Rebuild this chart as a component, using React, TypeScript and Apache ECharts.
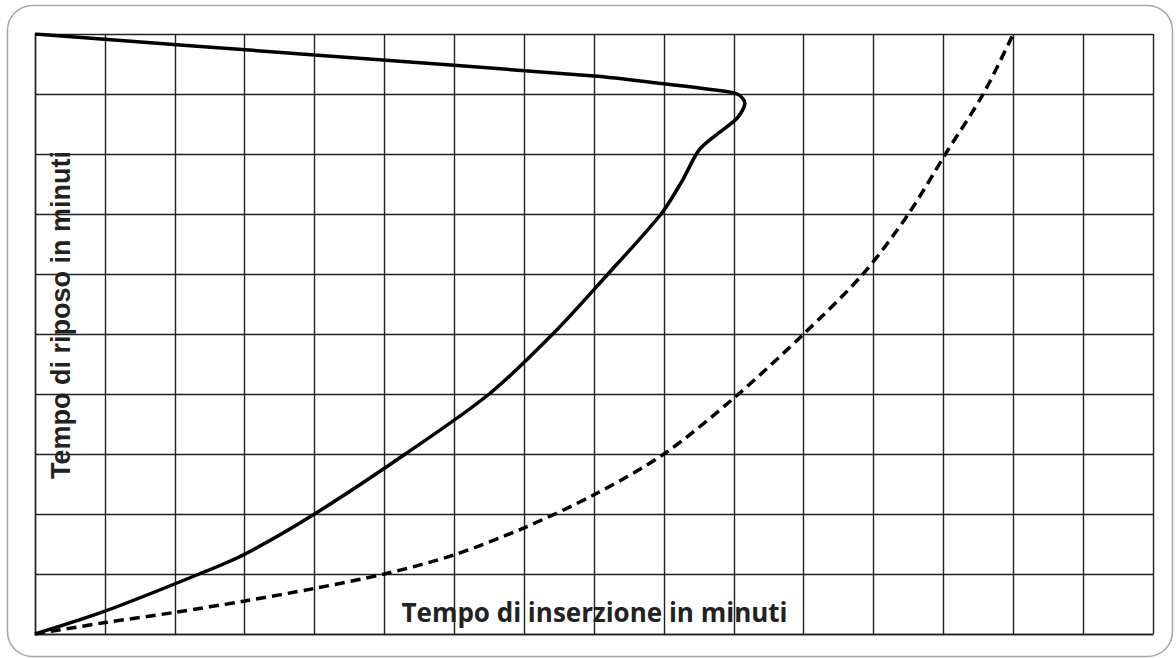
import React, { useEffect, useRef } from "react";
import * as echarts from "echarts";

// Grid extent (minutes)
const xMax = 16;
const yMax = 10;

// Solid curve: Tempo di riposo vs. inserzione
const solidX = [0, 4, 8, 9, 9.7, 10.05, 10.16, 10.05, 9.75, 9.5, 9.27, 8.96, 8.2, 7.41, 6.5, 5.3, 4.0, 3.0, 2.35, 1.0, 0];
const solidY = [10, 9.65, 9.3, 9.17, 9.07, 9.0, 8.85, 8.6, 8.32, 8.06, 7.57, 7.0, 6.0, 5.0, 4.0, 3.0, 2.0, 1.33, 1.0, 0.38, 0];

// Dashed curve
const dashedX = [0, 1, 2, 3, 4, 5, 6, 7, 8, 9, 10, 11, 11.85, 12.5, 13.03, 13.57, 14];
const dashedY = [0, 0.19, 0.36, 0.55, 0.76, 1.0, 1.32, 1.77, 2.32, 3.0, 3.93, 5.0, 6, 7, 8, 9, 10];

const xTitle = "Tempo di inserzione in minuti";
const yTitle = "Tempo di riposo in minuti";

export default function App() {
  const ref = useRef<HTMLDivElement>(null);
  useEffect(() => {
    if (!ref.current) return;
    const chart = echarts.init(ref.current, undefined, { renderer: "svg" });
    const gridColor = "#222222";
    const solid = solidX.map((x, i) => [x, solidY[i]]);
    const dashed = dashedX.map((x, i) => [x, dashedY[i]]);
    chart.setOption({
      animation: false,
      backgroundColor: "#ffffff",
      grid: { left: 35, top: 34, width: 1118, height: 600, containLabel: false },
      xAxis: {
        type: "value",
        min: 0,
        max: xMax,
        interval: 1,
        axisLabel: { show: false },
        axisTick: { show: false },
        axisLine: { show: true, lineStyle: { color: gridColor, width: 1.4 } },
        splitLine: { show: true, lineStyle: { color: gridColor, width: 1.4 } },
      },
      yAxis: {
        type: "value",
        min: 0,
        max: yMax,
        interval: 1,
        axisLabel: { show: false },
        axisTick: { show: false },
        axisLine: { show: true, lineStyle: { color: gridColor, width: 1.4 } },
        splitLine: { show: true, lineStyle: { color: gridColor, width: 1.4 } },
      },
      graphic: [
        {
          type: "rect",
          z: -2,
          shape: { x: 7.5, y: 5.5, width: 1165, height: 651, r: 25 },
          style: { fill: "none", stroke: "#a6a6a6", lineWidth: 1.5 },
        },
        {
          type: "text",
          z: -1,
          x: 594.5,
          y: 612,
          style: {
            text: xTitle,
            fontFamily: "Open Sans",
            fontWeight: "bold",
            fontSize: 26,
            fill: "#222222",
            textAlign: "center",
            textVerticalAlign: "middle",
          },
        },
        {
          type: "text",
          z: -1,
          x: 60.5,
          y: 315,
          rotation: Math.PI / 2,
          style: {
            text: yTitle,
            fontFamily: "Liberation Sans",
            fontWeight: "bold",
            fontSize: 27,
            fill: "#222222",
            textAlign: "center",
            textVerticalAlign: "middle",
          },
        },
      ],
      series: [
        {
          type: "line",
          data: solid,
          smooth: 0.3,
          showSymbol: false,
          symbol: "none",
          lineStyle: { color: "#000000", width: 3.5 },
          z: 3,
        },
        {
          type: "line",
          data: dashed,
          smooth: 0.3,
          showSymbol: false,
          symbol: "none",
          lineStyle: { color: "#000000", width: 3.5, type: [10, 6] },
          z: 3,
        },
      ],
    });
    return () => chart.dispose();
  }, []);
  return (
    <div
      ref={ref}
      style={{ position: "absolute", left: 0, top: 0, width: 1176, height: 659 }}
    />
  );
}
